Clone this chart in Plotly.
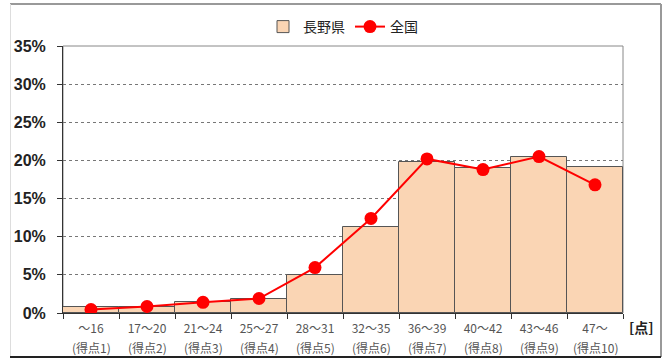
import plotly.graph_objects as go

ranges = ["～16", "17～20", "21～24", "25～27", "28～31", "32～35", "36～39", "40～42", "43～46", "47～"]
scores = ["(得点1)", "(得点2)", "(得点3)", "(得点4)", "(得点5)", "(得点6)", "(得点7)", "(得点8)", "(得点9)", "(得点10)"]
nagano = [0.75, 0.85, 1.4, 1.8, 5.0, 11.3, 19.8, 19.0, 20.5, 19.1]
zenkoku = [0.45, 0.85, 1.4, 1.9, 5.95, 12.4, 20.2, 18.8, 20.5, 16.8]
y_ticks = [0, 5, 10, 15, 20, 25, 30, 35]

FONT = "Arial, 'Liberation Sans', 'Noto Sans CJK JP', sans-serif"
JP = "'Noto Sans CJK JP', sans-serif"

fig = go.Figure()
fig.add_trace(go.Bar(x=ranges, y=nagano, name="長野県",
                     marker=dict(color="#FAD5B4", line=dict(color="#555555", width=1))))
fig.add_trace(go.Scatter(x=ranges, y=zenkoku, name="全国", mode="lines+markers",
                         line=dict(color="#FF0000", width=2),
                         marker=dict(color="#FF0000", size=13)))

fig.update_layout(
    width=664, height=360,
    margin=dict(l=63, r=41, t=46, b=47),
    paper_bgcolor="white", plot_bgcolor="white",
    bargap=0,
    font=dict(family=FONT, color="#333333"),
    showlegend=True,
    legend=dict(orientation="h", x=0.5, xanchor="center", xref="paper",
                y=0.925, yanchor="middle", yref="container",
                font=dict(size=14, color="#222222", family=JP),
                bgcolor="rgba(0,0,0,0)", traceorder="normal"),
    xaxis=dict(type="category", tickson="boundaries", ticks="outside", ticklen=5,
               tickcolor="#333333", showline=True, linecolor="#333333", linewidth=1,
               tickangle=0, automargin=False, ticklabelstandoff=5,
               tickfont=dict(size=12, color="#555555", family=JP),
               showgrid=False, range=[-0.5, 9.5]),
    yaxis=dict(range=[0, 35], tickvals=y_ticks, ticktext=[f"<b>{v}%</b>" for v in y_ticks],
               showgrid=True, gridcolor="#777777", griddash="dot", gridwidth=1,
               ticks="outside", ticklen=5, tickcolor="#333333", automargin=False,
               ticklabelstandoff=8,
               showline=True, linecolor="#333333", linewidth=1,
               tickfont=dict(size=16, color="#222222", family=FONT),
               zeroline=False),
)

# second line of category labels
for r, s in zip(ranges, scores):
    fig.add_annotation(text=s, x=r, xref="x", y=0, yref="paper", yanchor="top",
                       yshift=-24, showarrow=False,
                       font=dict(size=12, color="#555555", family=JP))

# plot area border (top/right) and outer frame
fig.add_shape(type="rect", xref="paper", yref="paper", x0=0, x1=1, y0=0, y1=1,
              line=dict(color="#888888", width=1), layer="below")
fig.add_shape(type="line", xref="paper", yref="paper", x0=(10-63)/560, x1=(661-63)/560,
              y0=(360-4-47)/267, y1=(360-4-47)/267, line=dict(color="#999999", width=2))
fig.add_shape(type="line", xref="paper", yref="paper", x0=(661-63)/560, x1=(661-63)/560,
              y0=(360-357-47)/267, y1=(360-4-47)/267, line=dict(color="#999999", width=2))
fig.add_shape(type="line", xref="paper", yref="paper", x0=(10.5-63)/560, x1=(10.5-63)/560,
              y0=(360-357-47)/267, y1=(360-4-47)/267, line=dict(color="#DDDDDD", width=1))
fig.add_shape(type="line", xref="paper", yref="paper", x0=(10-63)/560, x1=(661-63)/560,
              y0=(360-357-47)/267, y1=(360-357-47)/267, line=dict(color="#222222", width=2))

fig.add_annotation(text="<b>[点]</b>", xref="paper", yref="paper",
                   x=(627-63)/560, xanchor="left", y=(360-327-47)/267, yanchor="middle",
                   showarrow=False, font=dict(size=14, color="#222222", family=JP))

fig.write_html("out.html", config={"displayModeBar": False},
               post_script="document.body.style.margin='0px';")
